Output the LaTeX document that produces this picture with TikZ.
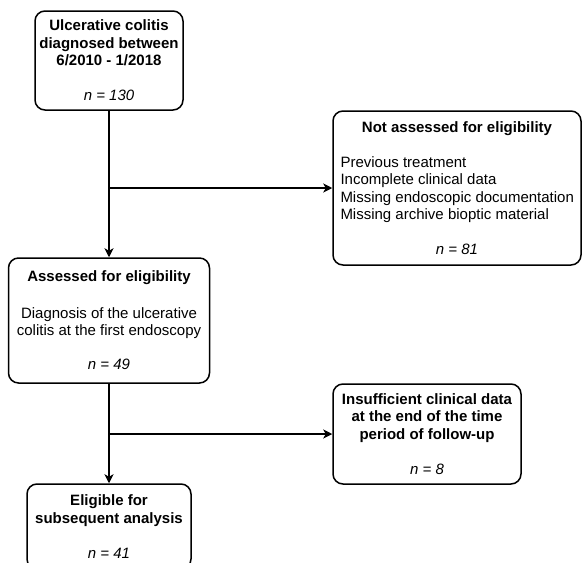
\documentclass[tikz,border=0pt]{standalone}
\usepackage{fontspec}
\setmainfont{Liberation Sans}
\usetikzlibrary{arrows.meta}
\begin{document}
\begin{tikzpicture}[x=1pt,y=-1pt,
  box/.style={draw=black, line width=1.5pt, rounded corners=10pt, align=center,
    inner sep=0pt, font=\fontsize{15}{17.5}\selectfont, text=black},
  arr/.style={draw=black, line width=1.5pt, -{Stealth[length=9pt,width=9pt,inset=2.5pt]}},
  ln/.style={draw=black, line width=1.5pt}]
\useasboundingbox (0,0) rectangle (582,563);
\node[box, minimum width=148pt, minimum height=99pt] (b1) at (109,60.5)
  {\textbf{Ulcerative colitis}\\\textbf{diagnosed between}\\\textbf{6/2010 - 1/2018}\\[17.5pt]\textit{n = 130}};
\node[box, minimum width=248pt, minimum height=154pt] (b2) at (457,188)
  {\textbf{Not assessed for eligibility}\\[17.5pt]
   \makebox[233pt][l]{Previous treatment}\\
   \makebox[233pt][l]{Incomplete clinical data}\\
   \makebox[233pt][l]{Missing endoscopic documentation}\\
   \makebox[233pt][l]{Missing archive bioptic material}\\[17.5pt]
   \textit{n = 81}};
\node[box, minimum width=201pt, minimum height=125pt] (b3) at (109,320.5)
  {\textbf{Assessed for eligibility}\\[19pt]Diagnosis of the ulcerative\\colitis at the first endoscopy\\[16.5pt]\textit{n = 49}};
\node[box, minimum width=188pt, minimum height=100pt] (b4) at (427,434)
  {\textbf{Insufficient clinical data}\\\textbf{at the end of the time}\\\textbf{period of follow-up}\\[17.5pt]\textit{n = 8}};
\node[box, minimum width=164pt, minimum height=85pt] (b5) at (109,526.5)
  {\textbf{Eligible for}\\\textbf{subsequent analysis}\\[17.5pt]\textit{n = 41}};
\coordinate (j1) at (b1.south |- b2.west);
\coordinate (j2) at (b3.south |- b4.west);
\draw[arr] (b1.south) -- (b3.north);
\draw[arr] (j1) -- (b2.west);
\draw[arr] (b3.south) -- (b5.north);
\draw[arr] (j2) -- (b4.west);
\end{tikzpicture}
\end{document}
